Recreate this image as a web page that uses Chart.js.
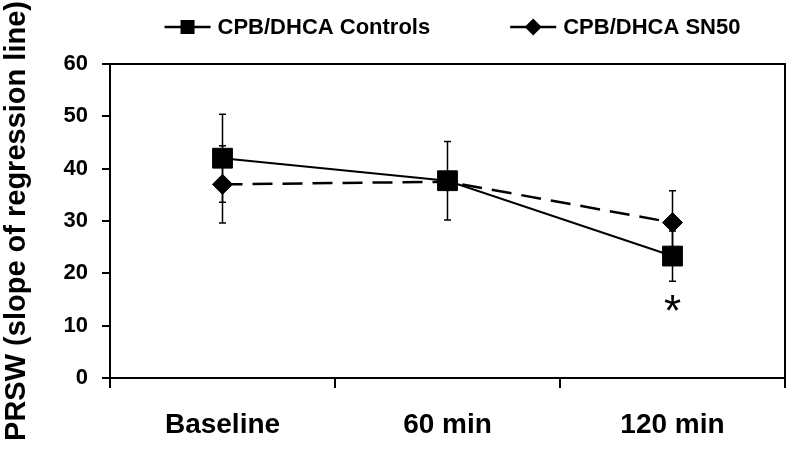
<!DOCTYPE html>
<html lang="en">
<head>
    <meta charset="UTF-8">
    <script src="https://cdn.jsdelivr.net/npm/chart.js"></script>
    <title>PRSW</title>
    <style>
        body { margin: 0; background: #fff; }
        #wrap { width: 800px; height: 461px; }
    </style>
</head>
<body>
    <div id="wrap">
        <canvas id="prswChart"></canvas>
    </div>

    <script>
    const labels = ['Baseline', '60 min', '120 min'];
    const controls = [42.0, 37.7, 23.3];
    const controlsErr = [8.4, 7.5, 4.8];
    const sn50 = [37.0, 37.5, 29.7];
    const sn50Err = [7.4, 1.5, 6.1];
    const sigMarks = ['', '', '*'];
    const yTicks = [0, 10, 20, 30, 40, 50, 60];

    const FONT = '"Liberation Sans", Arial, sans-serif';

    // error bars behind the markers
    const errorBars = {
        id: 'errorBars',
        beforeDatasetsDraw(chart) {
            const ctx = chart.ctx;
            const y = chart.scales.y;
            ctx.save();
            ctx.strokeStyle = '#000';
            ctx.lineWidth = 1.5;
            chart.data.datasets.forEach((ds, i) => {
                const meta = chart.getDatasetMeta(i);
                meta.data.forEach((pt, j) => {
                    const top = y.getPixelForValue(ds.data[j] + ds.err[j]);
                    const bot = y.getPixelForValue(ds.data[j] - ds.err[j]);
                    ctx.beginPath();
                    ctx.moveTo(pt.x, top); ctx.lineTo(pt.x, bot);
                    ctx.moveTo(pt.x - 3.5, top); ctx.lineTo(pt.x + 3.5, top);
                    ctx.moveTo(pt.x - 3.5, bot); ctx.lineTo(pt.x + 3.5, bot);
                    ctx.stroke();
                });
            });
            ctx.restore();
        }
    };

    const frameAndLegend = {
        id: 'frameAndLegend',
        afterDraw(chart) {
            const ctx = chart.ctx;
            const a = chart.chartArea;
            ctx.save();
            // top and right sides of the box
            ctx.strokeStyle = '#000';
            ctx.lineWidth = 2;
            ctx.beginPath();
            ctx.moveTo(a.left, a.top);
            ctx.lineTo(a.right, a.top);
            ctx.lineTo(a.right, a.bottom + 10);
            ctx.stroke();

            // significance marks
            const meta = chart.getDatasetMeta(0);
            ctx.fillStyle = '#000';
            ctx.font = '44px ' + FONT;
            ctx.textAlign = 'center';
            ctx.textBaseline = 'alphabetic';
            sigMarks.forEach((m, j) => {
                if (!m) return;
                const bot = chart.scales.y.getPixelForValue(controls[j] - controlsErr[j]);
                const tm = ctx.measureText(m);
                const cy = bot + 22;
                const base = cy + (tm.actualBoundingBoxAscent - tm.actualBoundingBoxDescent) / 2;
                ctx.fillText(m, meta.data[j].x, base);
            });

            // legend: line with marker, then label
            ctx.font = 'bold 22px ' + FONT;
            ctx.textAlign = 'left';
            ctx.textBaseline = 'middle';
            const lineLen = 46, txtGap = 7, itemGap = 80, ly = 27;
            const widths = chart.data.datasets.map(ds => lineLen + txtGap + ctx.measureText(ds.label).width);
            const total = widths.reduce((s, w) => s + w, 0) + itemGap;
            let x = (a.left + a.right) / 2 + 5 - total / 2;
            chart.data.datasets.forEach((ds, i) => {
                ctx.strokeStyle = '#000';
                ctx.lineWidth = 2.5;
                ctx.setLineDash([]);
                ctx.beginPath();
                ctx.moveTo(x, ly); ctx.lineTo(x + lineLen, ly);
                ctx.stroke();
                ctx.fillStyle = '#000';
                const cx = x + lineLen / 2;
                if (ds.pointStyle === 'rect') {
                    ctx.fillRect(cx - 7, ly - 7, 14, 14);
                } else {
                    ctx.beginPath();
                    ctx.moveTo(cx, ly - 8.5); ctx.lineTo(cx + 8.5, ly);
                    ctx.lineTo(cx, ly + 8.5); ctx.lineTo(cx - 8.5, ly);
                    ctx.closePath(); ctx.fill();
                }
                ctx.fillText(ds.label, x + lineLen + txtGap, ly + 1);
                x += widths[i] + itemGap;
            });
            ctx.restore();
        }
    };

    function createChart() {
        const ctx = document.getElementById('prswChart');

        new Chart(ctx, {
            type: 'line',
            data: {
                labels: labels,
                datasets: [{
                    label: 'CPB/DHCA Controls',
                    data: controls,
                    err: controlsErr,
                    borderColor: '#000',
                    backgroundColor: '#000',
                    borderWidth: 2,
                    pointStyle: 'rect',
                    pointRadius: 14,
                    pointBorderWidth: 1,
                    tension: 0
                }, {
                    label: 'CPB/DHCA SN50',
                    data: sn50,
                    err: sn50Err,
                    borderColor: '#000',
                    backgroundColor: '#000',
                    borderWidth: 2.5,
                    borderDash: [20, 10],
                    pointStyle: 'rectRot',
                    pointRadius: 10,
                    pointBorderWidth: 1,
                    tension: 0
                }]
            },
            options: {
                responsive: true,
                maintainAspectRatio: false,
                animation: false,
                layout: { padding: { top: 64, right: 11, left: 0, bottom: 0 } },
                plugins: {
                    legend: { display: false },
                    tooltip: { enabled: false }
                },
                scales: {
                    x: {
                        offset: true,
                        grid: {
                            offset: true,
                            drawOnChartArea: false,
                            tickLength: 10,
                            color: '#000',
                            lineWidth: 2
                        },
                        border: { color: '#000', width: 2 },
                        ticks: {
                            color: '#000',
                            padding: 20,
                            font: { family: FONT, size: 28, weight: 'bold' }
                        },
                        afterFit(s) { s.height = 83; }
                    },
                    y: {
                        min: 0,
                        max: 60,
                        afterBuildTicks(s) { s.ticks = yTicks.map(v => ({ value: v })); },
                        grid: {
                            drawOnChartArea: false,
                            tickLength: 8,
                            color: '#000',
                            lineWidth: 2
                        },
                        border: { color: '#000', width: 2 },
                        ticks: {
                            color: '#000',
                            padding: 14,
                            font: { family: FONT, size: 22, weight: 'bold' }
                        },
                        title: {
                            display: true,
                            text: 'PRSW (slope of regression line)',
                            color: '#000',
                            padding: { top: 0, bottom: 4 },
                            font: { family: FONT, size: 29, weight: 'bold' }
                        },
                        afterFit(s) { s.width = 110; }
                    }
                }
            },
            plugins: [errorBars, frameAndLegend]
        });
    }

    createChart();
    </script>
</body>
</html>
